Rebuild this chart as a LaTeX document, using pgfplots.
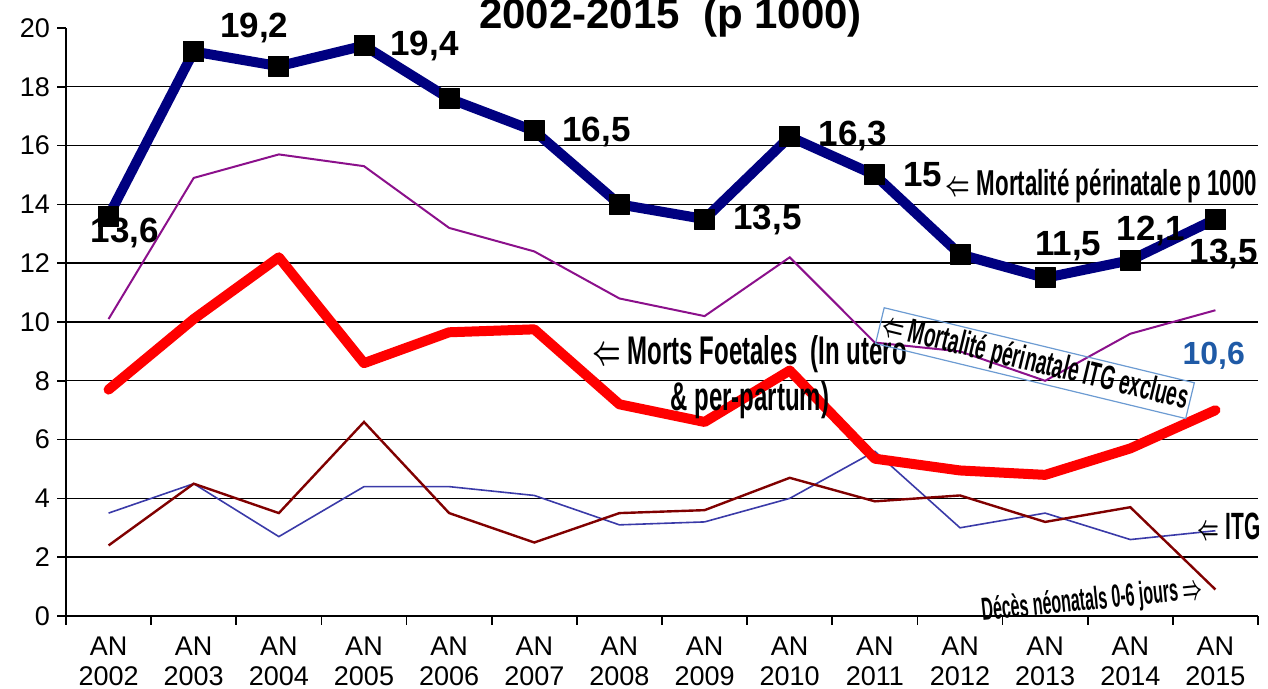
\documentclass[border=0pt]{standalone}
\usepackage{fontspec}
\setmainfont{Liberation Sans}
\usepackage{amsmath}
\usepackage{pgfplots}
\pgfplotsset{compat=1.18}

\definecolor{navyline}{HTML}{000080}
\definecolor{purpleline}{HTML}{8B108B}
\definecolor{itgblue}{HTML}{3A3AA8}
\definecolor{neored}{HTML}{800000}
\definecolor{boxblue}{HTML}{6C9BD2}
\definecolor{numblue}{HTML}{1F5AA6}

% condensed text, as in the original slide
\newcommand{\cond}[2][0.68]{\scalebox{#1}[1]{#2}}
\newcommand{\larr}{$\boldsymbol{\Leftarrow}$}
\newcommand{\rarr}{$\boldsymbol{\Rightarrow}$}

\begin{document}
\begin{tikzpicture}
\begin{axis}[
  name=ax,
  scale only axis,
  width=596pt, height=294pt,
  xmin=-0.5, xmax=13.5,
  ymin=0, ymax=20,
  clip=false,
  axis lines=left,
  axis line style={-, black, line width=0.8pt},
  tick align=outside,
  major tick length=4.5pt,
  tick style={black, line width=0.8pt},
  ytick={0,2,...,18},
  extra y ticks={20},
  extra y tick style={grid=none},
  ymajorgrids,
  grid style={black, line width=0.7pt},
  xtick={-0.5,0.5,...,13.5},
  xticklabels={},
  extra x ticks={0,...,13},
  extra x tick labels={AN\\2002,AN\\2003,AN\\2004,AN\\2005,AN\\2006,AN\\2007,AN\\2008,
    AN\\2009,AN\\2010,AN\\2011,AN\\2012,AN\\2013,AN\\2014,AN\\2015},
  extra x tick style={major tick length=0pt, grid=none,
    xticklabel style={align=center, yshift=-7pt}},
  /pgf/number format/assume math mode=true,
  ticklabel style={font=\fontsize{13.5}{15}\selectfont},
]
% Mortalite perinatale ITG exclues
\addplot[purpleline, line width=1pt] coordinates {
  (0,10.1) (1,14.9) (2,15.7) (3,15.3) (4,13.2) (5,12.4) (6,10.8)
  (7,10.2) (8,12.2) (9,9.3) (10,9.0) (11,8.0) (12,9.6) (13,10.4)
};
% ITG
\addplot[itgblue, line width=0.8pt] coordinates {
  (0,3.5) (1,4.5) (2,2.7) (3,4.4) (4,4.4) (5,4.1) (6,3.1)
  (7,3.2) (8,4.0) (9,5.6) (10,3.0) (11,3.5) (12,2.6) (13,2.9)
};
% Deces neonatals 0-6 jours
\addplot[neored, line width=1.2pt] coordinates {
  (0,2.4) (1,4.5) (2,3.5) (3,6.6) (4,3.5) (5,2.5) (6,3.5)
  (7,3.6) (8,4.7) (9,3.9) (10,4.1) (11,3.2) (12,3.7) (13,0.9)
};
% Morts foetales
\addplot[red, line width=5pt, line join=round, line cap=round] coordinates {
  (0,7.7) (1,10.1) (2,12.2) (3,8.6) (4,9.65) (5,9.75) (6,7.2)
  (7,6.6) (8,8.35) (9,5.35) (10,4.95) (11,4.8) (12,5.7) (13,7.0)
};
% Mortalite perinatale p 1000
\addplot[navyline, line width=5pt, line join=round,
  mark=square*, mark size=5pt,
  mark options={draw=black, fill=black, line width=0.5pt, rounded corners=1.5pt}] coordinates {
  (0,13.6) (1,19.2) (2,18.7) (3,19.4) (4,17.6) (5,16.5) (6,14.0)
  (7,13.5) (8,16.3) (9,15.0) (10,12.3) (11,11.5) (12,12.1) (13,13.5)
};

% value labels
\begin{scope}[every node/.style={font=\bfseries\fontsize{17.5}{19}\selectfont}]
\node at (axis cs:0.19,13.03) {13,6};
\node at (axis cs:1.71,19.99) {19,2};
\node at (axis cs:3.71,19.39) {19,4};
\node at (axis cs:5.73,16.46) {16,5};
\node at (axis cs:7.74,13.47) {13,5};
\node at (axis cs:8.74,16.34) {16,3};
\node at (axis cs:9.56,15.0) {15};
\node at (axis cs:11.27,12.58) {11,5};
\node at (axis cs:12.24,13.1) {12,1};
\node at (axis cs:13.1,12.31) {13,5};
\end{scope}

% title (cut at the top, as in the original)
\node[anchor=base, font=\bfseries\fontsize{21}{24}\selectfont] at (axis cs:6.6,19.98) {2002-2015\ \ (p 1000)};

% annotations
\node[anchor=west, inner sep=0pt, font=\bfseries\fontsize{18}{20}\selectfont] at (axis cs:9.83,14.62)
  {\cond[0.62]{\larr{} Mortalité périnatale p 1000}};
\node[align=center, font=\bfseries\fontsize{20}{23}\selectfont] at (axis cs:7.53,8.13)
  {\cond[0.6]{\larr{} Morts Foetales\ \ (In utero}\\\cond[0.6]{\& per-partum)}};
\node[draw=boxblue, line width=0.6pt, rotate=-13.6, inner sep=1.2pt,
  font=\bfseries\fontsize{17}{19}\selectfont] at (axis cs:10.88,8.6)
  {\cond[0.56]{\larr{} Mortalité périnatale ITG exclues}};
\node[text=numblue, font=\bfseries\fontsize{16}{18}\selectfont] at (axis cs:12.98,8.84) {10,6};
\node[anchor=west, inner sep=0pt, font=\bfseries\fontsize{19}{21}\selectfont] at (axis cs:12.79,3.03)
  {\cond[0.55]{\larr{} ITG}};
\node[rotate=5.8, font=\bfseries\fontsize{16}{18}\selectfont] at (axis cs:11.55,0.5)
  {\cond[0.5]{Décès néonatals 0-6 jours \rarr}};
\end{axis}
\pgfresetboundingbox
\path[use as bounding box] ([shift={(-33pt,-36.5pt)}]ax.south west) rectangle ([shift={(5pt,14pt)}]ax.north east);
\end{tikzpicture}
\end{document}
